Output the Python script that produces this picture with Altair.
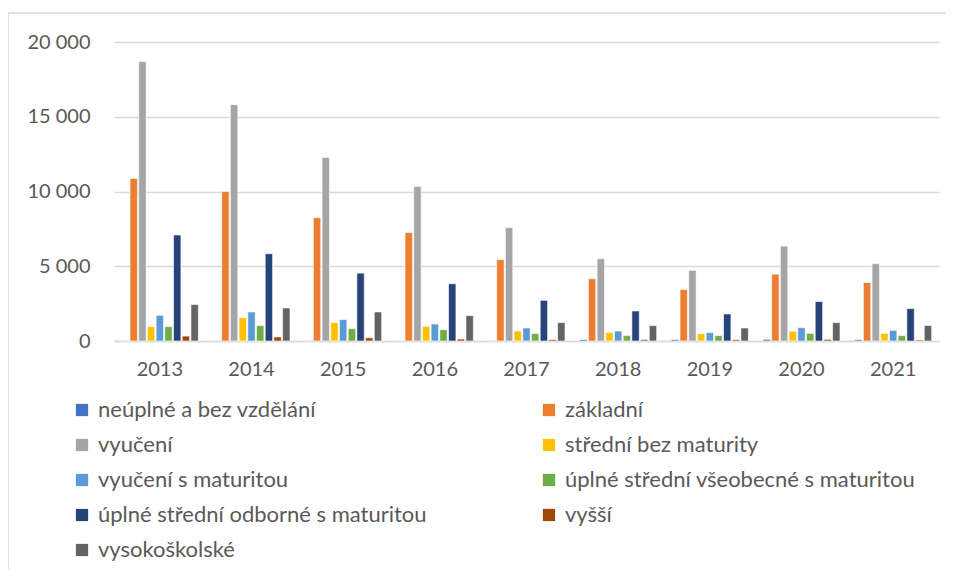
import altair as alt
import pandas as pd

years = ["2013", "2014", "2015", "2016", "2017", "2018", "2019", "2020", "2021"]
categories = [
    "neúplné a bez vzdělání",
    "základní",
    "vyučení",
    "střední bez maturity",
    "vyučení s maturitou",
    "úplné střední všeobecné s maturitou",
    "úplné střední odborné s maturitou",
    "vyšší",
    "vysokoškolské",
]
colors = ["#4472C4", "#ED7D31", "#A5A5A5", "#FFC000", "#5B9BD5",
          "#70AD47", "#264478", "#9E480E", "#636363"]

neuplne = [20, 20, 20, 20, 30, 90, 90, 110, 90]
zakladni = [10870, 10000, 8250, 7250, 5440, 4160, 3440, 4470, 3910]
vyuceni = [18690, 15810, 12280, 10340, 7580, 5500, 4720, 6350, 5170]
stredni_bez = [960, 1560, 1230, 980, 670, 560, 490, 650, 510]
vyuceni_mat = [1720, 1940, 1430, 1140, 870, 670, 560, 890, 710]
vseobecne = [960, 1030, 830, 760, 490, 360, 360, 510, 360]
odborne = [7090, 5840, 4540, 3830, 2720, 2010, 1810, 2640, 2170]
vyssi = [330, 270, 220, 130, 90, 90, 90, 110, 70]
vysoko = [2440, 2210, 1940, 1700, 1230, 1030, 870, 1230, 1030]

series = [neuplne, zakladni, vyuceni, stredni_bez, vyuceni_mat,
          vseobecne, odborne, vyssi, vysoko]

rows = []
for cat, vals in zip(categories, series):
    for y, v in zip(years, vals):
        rows.append({"rok": y, "kategorie": cat, "hodnota": v})
df = pd.DataFrame(rows)

FONT = "Lato"
TXT = "#595959"
GRID = "#D9D9D9"

W, H = 825, 299

bars = alt.Chart(df).mark_bar(stroke="white", strokeWidth=0.6).encode(
    x=alt.X("rok:N", sort=years, title=None,
            scale=alt.Scale(paddingInner=0.16, paddingOuter=0.08),
            axis=alt.Axis(labelAngle=0, ticks=False, domain=True,
                          domainColor=GRID, domainWidth=1.5,
                          labelFont=FONT, labelFontSize=20, labelColor=TXT,
                          labelPadding=18, grid=False)),
    xOffset=alt.XOffset("kategorie:N", sort=categories,
                        scale=alt.Scale(paddingInner=0.15, paddingOuter=0)),
    y=alt.Y("hodnota:Q", title=None,
            scale=alt.Scale(domain=[0, 20000]),
            axis=alt.Axis(values=[0, 5000, 10000, 15000, 20000],
                          labelExpr="replace(format(datum.value, ','), ',', ' ')",
                          ticks=False, domain=False, grid=True,
                          gridColor=GRID, gridWidth=1.5,
                          labelFont=FONT, labelFontSize=20, labelColor=TXT,
                          labelPadding=24)),
    color=alt.Color("kategorie:N", sort=categories,
                    scale=alt.Scale(domain=categories, range=colors),
                    legend=alt.Legend(title=None, orient="none",
                                      direction="horizontal",
                                      legendX=-43, legendY=357,
                                      columns=2, columnPadding=111,
                                      rowPadding=13,
                                      symbolType="square", symbolSize=150,
                                      symbolStrokeWidth=0,
                                      labelFont=FONT, labelFontSize=22,
                                      labelColor=TXT, labelOffset=5,
                                      labelLimit=500)),
)

frame = alt.Chart(pd.DataFrame({"a": [0]})).mark_rect(
    fill=None, stroke=GRID, strokeWidth=1.5
).encode(
    x=alt.value(-106), x2=alt.value(W + 40),
    y=alt.value(-29), y2=alt.value(H + 260),
)

chart = alt.layer(frame, bars).properties(
    width=W, height=H,
    autosize=alt.AutoSizeParams(type="none"),
    padding={"left": 106, "top": 34, "right": 7, "bottom": 229},
).configure_view(stroke=None)

chart.save("out.html", embed_options={"renderer": "svg", "actions": False})
